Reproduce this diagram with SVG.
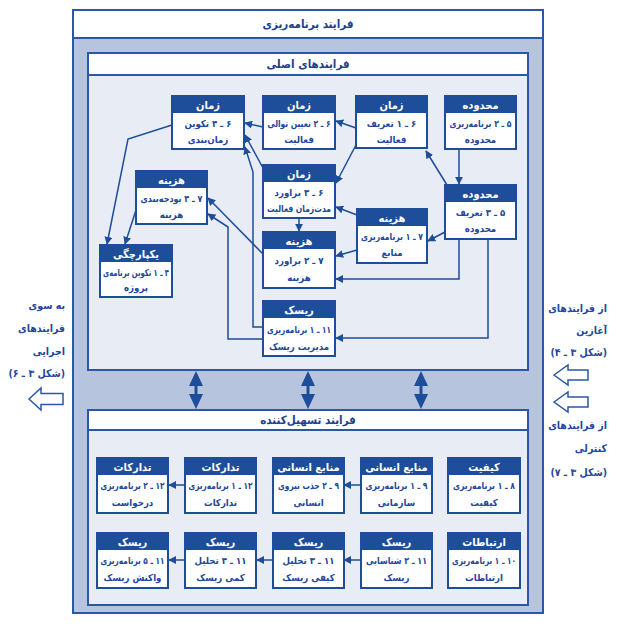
<svg xmlns="http://www.w3.org/2000/svg" width="620" height="627" viewBox="0 0 620 627">
<defs>
<style>
.frame{fill:none;stroke:#2a58a6;stroke-width:2}
.bg{fill:#b6c4de}
.panel{fill:#e7ecf5}
.band{fill:#ffffff}
.body{fill:#ffffff;stroke:#1e4d99;stroke-width:2}
.hdr{fill:#1e4d99}
.ht{font-family:"DejaVu Sans Condensed","DejaVu Sans",sans-serif;font-weight:bold;font-size:11px;fill:#ffffff;text-anchor:middle}
.bt{font-family:"DejaVu Sans Condensed","DejaVu Sans",sans-serif;font-weight:bold;font-size:9.6px;fill:#23479a;text-anchor:middle}
.title{font-family:"DejaVu Sans Condensed","DejaVu Sans",sans-serif;font-weight:bold;font-size:11.5px;fill:#1e4090;text-anchor:middle}
.side{font-family:"DejaVu Sans Condensed","DejaVu Sans",sans-serif;font-weight:bold;font-size:10.5px;fill:#23479a;text-anchor:end}
.con{fill:none;stroke:#1e4d99;stroke-width:1.5;marker-end:url(#ah)}
.hollow{fill:#ffffff;stroke:#2a58a6;stroke-width:1.5}
.dbl{fill:#1e4d99}
</style>
<marker id="ah" viewBox="0 0 10 10" refX="9" refY="5" markerWidth="8" markerHeight="8" markerUnits="userSpaceOnUse" orient="auto">
<path d="M0,0 L10,5 L0,10 z" fill="#1e4d99"/>
</marker>
</defs>

<g id="frame">
<rect class="bg" x="73" y="38" width="470" height="575"/>
<rect class="band" x="73" y="10" width="470" height="28"/>
<rect class="frame" x="73" y="10" width="470" height="603"/>
<line x1="73" y1="38" x2="543" y2="38" stroke="#2a58a6" stroke-width="2"/>
<text class="title" x="308" y="28">&#x200F;فرایند برنامه&#x200C;ریزی</text>
</g>

<g id="main-box">
<rect class="band" x="88" y="53" width="440" height="22"/>
<rect class="panel" x="88" y="75" width="440" height="295"/>
<rect class="frame" x="88" y="53" width="440" height="317"/>
<line x1="88" y1="75" x2="528" y2="75" stroke="#2a58a6" stroke-width="2"/>
<text class="title" x="308" y="68">&#x200F;فرایندهای اصلی</text>
</g>

<g id="facil-box">
<rect class="band" x="88" y="410" width="440" height="20"/>
<rect class="panel" x="88" y="430" width="440" height="175"/>
<rect class="frame" x="88" y="410" width="440" height="195"/>
<line x1="88" y1="430" x2="528" y2="430" stroke="#2a58a6" stroke-width="2"/>
<text class="title" x="308" y="424">&#x200F;فرایند تسهیل&#x200C;کننده</text>
</g>

<g id="left-label">
<text class="side" x="65" y="309">&#x200F;به سوی</text>
<text class="side" x="65" y="332">&#x200F;فرایندهای</text>
<text class="side" x="65" y="355">&#x200F;اجرایی</text>
<text class="side" x="65" y="377">&#x200F;(شکل ۳ ـ ۶)&#x200F;</text>
<path class="hollow" d="M29,399 L41,388 L41,393.5 L63,393.5 L63,404.5 L41,404.5 L41,410 Z"/>
</g>
<g id="right-label">
<text class="side" x="607" y="312">&#x200F;از فرایندهای</text>
<text class="side" x="607" y="334">&#x200F;آغازین</text>
<text class="side" x="607" y="356">&#x200F;(شکل ۳ ـ ۴)&#x200F;</text>
<path class="hollow" d="M554,375 L568,365 L568,370 L588,370 L588,380 L568,380 L568,385 Z"/>
<path class="hollow" d="M554,402 L568,392 L568,397 L588,397 L588,407 L568,407 L568,412 Z"/>
<text class="side" x="607" y="429">&#x200F;از فرایندهای</text>
<text class="side" x="607" y="452">&#x200F;کنترلی</text>
<text class="side" x="607" y="476">&#x200F;(شکل ۳ ـ ۷)&#x200F;</text>
</g>

<g id="links">
<path class="dbl" d="M196,371 L203,386 L197.5,386 L197.5,394 L203,394 L196,409 L189,394 L194.5,394 L194.5,386 L189,386 Z"/>
<path class="dbl" d="M308,371 L315,386 L309.5,386 L309.5,394 L315,394 L308,409 L301,394 L306.5,394 L306.5,386 L301,386 Z"/>
<path class="dbl" d="M421,371 L428,386 L422.5,386 L422.5,394 L428,394 L421,409 L414,394 L419.5,394 L419.5,386 L414,386 Z"/>
</g>

<g id="connectors">
<path class="con" d="M263,127 L245,123"/>
<path class="con" d="M356,128 L336,121"/>
<path class="con" d="M356,145 L336,183"/>
<path class="con" d="M447,185 L426,151"/>
<path class="con" d="M459,149 L459,184"/>
<path class="con" d="M263,168 L245,135"/>
<path class="con" d="M263,327 L253,327 L253,172 L245,147"/>
<path class="con" d="M299,218 L299,231"/>
<path class="con" d="M357,215 L336,207"/>
<path class="con" d="M357,250 L336,256"/>
<path class="con" d="M445,232 L428,241"/>
<path class="con" d="M459,239 L459,279 L336,279"/>
<path class="con" d="M488,239 L488,338 L336,338"/>
<path class="con" d="M263,254 L208,198"/>
<path class="con" d="M263,339 L228,339 L228,227 L208,214"/>
<path class="con" d="M172,125 L128,139 L107,244"/>
<path class="con" d="M137,207 L125,244"/>
<path class="con" d="M185,485 L169,485"/>
<path class="con" d="M361,485 L344,485"/>
<path class="con" d="M361,560 L344,560"/>
<path class="con" d="M273,560 L257,560"/>
<path class="con" d="M185,560 L169,560"/>
</g>

<g id="n6-4">
<rect class="body" x="172" y="96" width="72" height="53"/>
<rect class="hdr" x="172" y="96" width="72" height="17"/>
<text class="ht" x="208" y="109">زمان</text>
<text class="bt" x="208" y="127">&#x200F;۶ ـ ۴ تکوین</text>
<text class="bt" x="208" y="143">&#x200F;زمان&#x200C;بندی</text>
</g>
<g id="n6-2">
<rect class="body" x="263" y="96" width="72" height="53"/>
<rect class="hdr" x="263" y="96" width="72" height="17"/>
<text class="ht" x="299" y="109">زمان</text>
<text class="bt" x="299" y="127" textLength="63" lengthAdjust="spacingAndGlyphs">&#x200F;۶ ـ ۲ تعیین توالی</text>
<text class="bt" x="299" y="143">&#x200F;فعالیت</text>
</g>
<g id="n6-1">
<rect class="body" x="356" y="96" width="71" height="52"/>
<rect class="hdr" x="356" y="96" width="71" height="17"/>
<text class="ht" x="391.5" y="109">زمان</text>
<text class="bt" x="391.5" y="127">&#x200F;۶ ـ ۱ تعریف</text>
<text class="bt" x="391.5" y="143">&#x200F;فعالیت</text>
</g>
<g id="n5-2">
<rect class="body" x="445" y="96" width="71" height="53"/>
<rect class="hdr" x="445" y="96" width="71" height="17"/>
<text class="ht" x="480.5" y="109">محدوده</text>
<text class="bt" x="480.5" y="127" textLength="62" lengthAdjust="spacingAndGlyphs">&#x200F;۵ ـ ۲ برنامه&#x200C;ریزی</text>
<text class="bt" x="480.5" y="143">&#x200F;محدوده</text>
</g>
<g id="n5-3">
<rect class="body" x="445" y="185" width="71" height="54"/>
<rect class="hdr" x="445" y="185" width="71" height="17"/>
<text class="ht" x="480.5" y="198">محدوده</text>
<text class="bt" x="480.5" y="216">&#x200F;۵ ـ ۳ تعریف</text>
<text class="bt" x="480.5" y="232">&#x200F;محدوده</text>
</g>
<g id="n6-3">
<rect class="body" x="263" y="165" width="72" height="53"/>
<rect class="hdr" x="263" y="165" width="72" height="17"/>
<text class="ht" x="299" y="178">زمان</text>
<text class="bt" x="299" y="196">&#x200F;۶ ـ ۳ براورد</text>
<text class="bt" x="299" y="212" textLength="64" lengthAdjust="spacingAndGlyphs">&#x200F;مدت&#x200C;زمان فعالیت</text>
</g>
<g id="n7-1">
<rect class="body" x="357" y="209" width="70" height="54"/>
<rect class="hdr" x="357" y="209" width="70" height="17"/>
<text class="ht" x="392" y="222">هزینه</text>
<text class="bt" x="392" y="240" textLength="62" lengthAdjust="spacingAndGlyphs">&#x200F;۷ ـ ۱ برنامه&#x200C;ریزی</text>
<text class="bt" x="392" y="256">&#x200F;منابع</text>
</g>
<g id="n7-2">
<rect class="body" x="263" y="232" width="72" height="56"/>
<rect class="hdr" x="263" y="232" width="72" height="17"/>
<text class="ht" x="299" y="245">هزینه</text>
<text class="bt" x="299" y="264">&#x200F;۷ ـ ۲ براورد</text>
<text class="bt" x="299" y="281">&#x200F;هزینه</text>
</g>
<g id="n7-3">
<rect class="body" x="136" y="171" width="71" height="53"/>
<rect class="hdr" x="136" y="171" width="71" height="17"/>
<text class="ht" x="171.5" y="184">هزینه</text>
<text class="bt" x="171.5" y="202" textLength="62" lengthAdjust="spacingAndGlyphs">&#x200F;۷ ـ ۳ بودجه&#x200C;بندی</text>
<text class="bt" x="171.5" y="218">&#x200F;هزینه</text>
</g>
<g id="n4-1">
<rect class="body" x="100" y="245" width="72" height="52"/>
<rect class="hdr" x="100" y="245" width="72" height="17"/>
<text class="ht" x="136" y="258">یکپارچگی</text>
<text class="bt" x="136" y="276" textLength="66" lengthAdjust="spacingAndGlyphs">&#x200F;۴ ـ ۱ تکوین برنامه&#x200C;ی</text>
<text class="bt" x="136" y="291">&#x200F;پروژه</text>
</g>
<g id="n11-1">
<rect class="body" x="263" y="301" width="72" height="55"/>
<rect class="hdr" x="263" y="301" width="72" height="17"/>
<text class="ht" x="299" y="314">ریسک</text>
<text class="bt" x="299" y="333" textLength="64" lengthAdjust="spacingAndGlyphs">&#x200F;۱۱ ـ ۱ برنامه&#x200C;ریزی</text>
<text class="bt" x="299" y="350">&#x200F;مدیریت ریسک</text>
</g>

<g id="n12-2">
<rect class="body" x="97" y="458" width="71" height="55"/>
<rect class="hdr" x="97" y="458" width="71" height="17"/>
<text class="ht" x="132.5" y="471">تدارکات</text>
<text class="bt" x="132.5" y="489" textLength="64" lengthAdjust="spacingAndGlyphs">&#x200F;۱۲ ـ ۲ برنامه&#x200C;ریزی</text>
<text class="bt" x="132.5" y="506">&#x200F;درخواست</text>
</g>
<g id="n12-1">
<rect class="body" x="185" y="458" width="71" height="55"/>
<rect class="hdr" x="185" y="458" width="71" height="17"/>
<text class="ht" x="220.5" y="471">تدارکات</text>
<text class="bt" x="220.5" y="489" textLength="64" lengthAdjust="spacingAndGlyphs">&#x200F;۱۲ ـ ۱ برنامه&#x200C;ریزی</text>
<text class="bt" x="220.5" y="506">&#x200F;تدارکات</text>
</g>
<g id="n9-2">
<rect class="body" x="273" y="458" width="71" height="55"/>
<rect class="hdr" x="273" y="458" width="71" height="17"/>
<text class="ht" x="308.5" y="471">&#x200F;منابع انسانی</text>
<text class="bt" x="308.5" y="489" textLength="61" lengthAdjust="spacingAndGlyphs">&#x200F;۹ ـ ۲ جذب نیروی</text>
<text class="bt" x="308.5" y="506">&#x200F;انسانی</text>
</g>
<g id="n9-1">
<rect class="body" x="361" y="458" width="71" height="55"/>
<rect class="hdr" x="361" y="458" width="71" height="17"/>
<text class="ht" x="396.5" y="471">&#x200F;منابع انسانی</text>
<text class="bt" x="396.5" y="489" textLength="62" lengthAdjust="spacingAndGlyphs">&#x200F;۹ ـ ۱ برنامه&#x200C;ریزی</text>
<text class="bt" x="396.5" y="506">&#x200F;سازمانی</text>
</g>
<g id="n8-1">
<rect class="body" x="448" y="458" width="72" height="55"/>
<rect class="hdr" x="448" y="458" width="72" height="17"/>
<text class="ht" x="484" y="471">کیفیت</text>
<text class="bt" x="484" y="489" textLength="62" lengthAdjust="spacingAndGlyphs">&#x200F;۸ ـ ۱ برنامه&#x200C;ریزی</text>
<text class="bt" x="484" y="506">&#x200F;کیفیت</text>
</g>

<g id="n11-5">
<rect class="body" x="97" y="533" width="71" height="55"/>
<rect class="hdr" x="97" y="533" width="71" height="17"/>
<text class="ht" x="132.5" y="546">ریسک</text>
<text class="bt" x="132.5" y="564" textLength="64" lengthAdjust="spacingAndGlyphs">&#x200F;۱۱ ـ ۵ برنامه&#x200C;ریزی</text>
<text class="bt" x="132.5" y="581">&#x200F;واکنش ریسک</text>
</g>
<g id="n11-4">
<rect class="body" x="185" y="533" width="71" height="55"/>
<rect class="hdr" x="185" y="533" width="71" height="17"/>
<text class="ht" x="220.5" y="546">ریسک</text>
<text class="bt" x="220.5" y="564">&#x200F;۱۱ ـ ۴ تحلیل</text>
<text class="bt" x="220.5" y="581">&#x200F;کمی ریسک</text>
</g>
<g id="n11-3">
<rect class="body" x="273" y="533" width="71" height="55"/>
<rect class="hdr" x="273" y="533" width="71" height="17"/>
<text class="ht" x="308.5" y="546">ریسک</text>
<text class="bt" x="308.5" y="564">&#x200F;۱۱ ـ ۳ تحلیل</text>
<text class="bt" x="308.5" y="581">&#x200F;کیفی ریسک</text>
</g>
<g id="n11-2">
<rect class="body" x="361" y="533" width="71" height="55"/>
<rect class="hdr" x="361" y="533" width="71" height="17"/>
<text class="ht" x="396.5" y="546">ریسک</text>
<text class="bt" x="396.5" y="564" textLength="61" lengthAdjust="spacingAndGlyphs">&#x200F;۱۱ ـ ۲ شناسایی</text>
<text class="bt" x="396.5" y="581">&#x200F;ریسک</text>
</g>
<g id="n10-1">
<rect class="body" x="448" y="533" width="72" height="55"/>
<rect class="hdr" x="448" y="533" width="72" height="17"/>
<text class="ht" x="484" y="546">ارتباطات</text>
<text class="bt" x="484" y="564" textLength="64" lengthAdjust="spacingAndGlyphs">&#x200F;۱۰ ـ ۱ برنامه&#x200C;ریزی</text>
<text class="bt" x="484" y="581">&#x200F;ارتباطات</text>
</g>
</svg>
